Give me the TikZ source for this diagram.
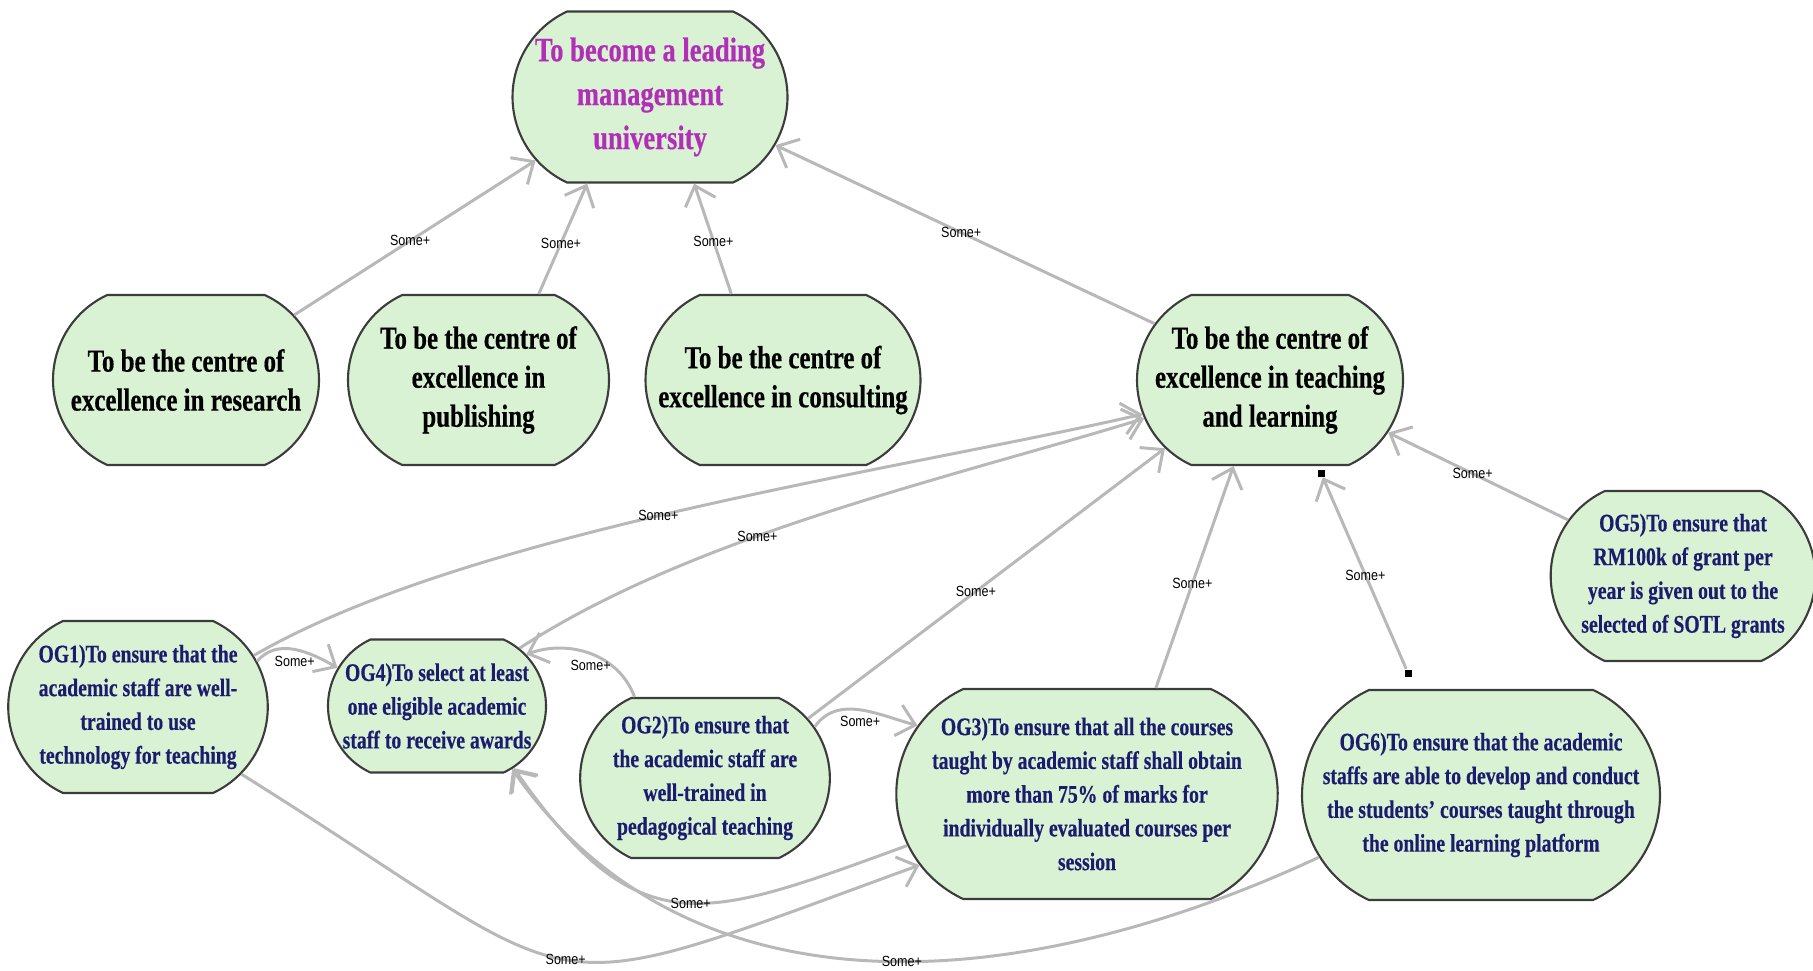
\documentclass[tikz,border=0pt]{standalone}
\usepackage{fontspec}
\setmainfont{Liberation Serif}[FakeStretch=0.78,BoldFeatures={FakeBold=0.4}]
\newfontfamily\somefont{Liberation Sans}[FakeStretch=0.85]
\usetikzlibrary{arrows.meta,shapes}

\definecolor{boxfill}{HTML}{D9F2D3}
\definecolor{boxline}{HTML}{3C3C3C}
\definecolor{ogblue}{HTML}{1C1C6E}
\definecolor{goalpink}{HTML}{B22DB8}
\definecolor{linkgray}{HTML}{B8B8B8}

\begin{document}
\begin{tikzpicture}[
		>={Straight Barb[length=5pt,width=9pt]},
		box/.style={rounded rectangle, rounded rectangle arc length=130, draw=boxline, line width=0.6pt, fill=boxfill, align=center, inner sep=2pt},
		head/.style={box, minimum width=2.8cm, minimum height=1.7cm, font=\fontsize{9.1}{11.1}\selectfont\bfseries},
		og/.style={box, text=ogblue, font=\fontsize{7.2}{9.6}\selectfont\bfseries},
		link/.style={->, draw=linkgray, line width=0.85pt},
		some/.style={font=\somefont\fontsize{4.2}{5}\selectfont, inner sep=0.5pt},
		handle/.style={fill=black, minimum size=0.07cm, inner sep=0pt}
	]
	\useasboundingbox (0,0) rectangle (18.13,-9.70);

	\node[box, minimum width=2.89cm, minimum height=1.71cm, text=goalpink, font=\fontsize{9.7}{12.5}\selectfont\bfseries] (top) at (6.50,-0.97) {To become a leading\\management\\university};

	\node[head] (res) at (1.86,-3.80) {To be the centre of\\excellence in research};
	\node[head, minimum width=2.75cm] (pub) at (4.785,-3.80) {To be the centre of\\excellence in\\publishing};
	\node[head, minimum width=2.89cm] (con) at (7.83,-3.80) {To be the centre of\\excellence in consulting};
	\node[head] (tl) at (12.70,-3.80) {To be the centre of\\excellence in teaching\\and learning};

	\node[og, minimum width=2.55cm, minimum height=1.70cm] (og5) at (16.83,-5.76) {OG5)To ensure that\\RM100k of grant per\\year is given out to the\\selected of SOTL grants};
	\node[og, minimum width=2.52cm, minimum height=1.72cm] (og1) at (1.38,-7.07) {OG1)To ensure that the\\academic staff are well-\\trained to use\\technology for teaching};
	\node[og, minimum width=2.32cm, minimum height=1.33cm] (og4) at (4.37,-7.06) {OG4)To select at least\\one eligible academic\\staff to receive awards};
	\node[og, minimum width=2.09cm, minimum height=1.60cm] (og2) at (7.05,-7.78) {OG2)To ensure that\\the academic staff are\\well-trained in\\pedagogical teaching};
	\node[og, minimum width=3.75cm, minimum height=2.10cm] (og3) at (10.87,-7.94) {OG3)To ensure that all the courses\\taught by academic staff shall obtain\\more than 75\% of marks for\\individually evaluated courses per\\session};
	\node[og, minimum width=3.72cm, minimum height=2.10cm] (og6) at (14.81,-7.95) {OG6)To ensure that the academic\\staffs are able to develop and conduct\\the students’ courses taught through\\the online learning platform};

	\node[handle] (hA) at (14.08,-6.73) {};
	\node[handle] (hB) at (13.21,-4.73) {};

	% up to the goal
	\draw[link] (res.31) -- node[some,pos=.48] {Some+} (top.209);
	\draw[link] (pub.55) -- node[some,pos=.46] {Some+} (top.234);
	\draw[link] (con.121) -- node[some,pos=.48] {Some+} (top.297);
	\draw[link] (tl.154) -- node[some,pos=.51] {Some+} (top.339);

	% into teaching and learning
	\draw[link] (og5.154) -- node[some,pos=.53] {Some+} (tl.336);
	\draw[link] (hA) -- node[some,pos=.49] {Some+} (hB);
	\draw[link] (og3.57) -- node[some,pos=.47] {Some+} (tl.247);
	\draw[link] (og2.30) -- node[some,pos=.47] {Some+} (tl.213);
	\draw[link] (og4.35) to[out=33,in=197,looseness=.8] node[some,pos=.4] {Some+} (tl.197);
	\draw[link] (og1.24) to[out=30,in=193,looseness=.7] node[some,pos=.47] {Some+} (tl.195);

	% between the objectives
	\draw[link] (og1.21) to[out=50,in=150] node[some,below=1pt] {Some+} (og4.159);
	\draw[link] (og2.131) to[out=110,in=20] node[some,below=1pt] {Some+} (og4.30);
	\draw[link] (og2.25) to[out=55,in=165] node[some,below=1pt] {Some+} (og3.158);
	\draw[link] (og3.196) to[out=200,in=-55,looseness=1.4] node[some,pos=.47] {Some+} (og4.321);
	\draw[link] (og1.327) to[out=-32,in=200,looseness=1.6] node[some,pos=.5] {Some+} (og3.203);
	\draw[link] (og6.201) to[out=205,in=-55] node[some,pos=.47] {Some+} (og4.320);
\end{tikzpicture}
\end{document}
